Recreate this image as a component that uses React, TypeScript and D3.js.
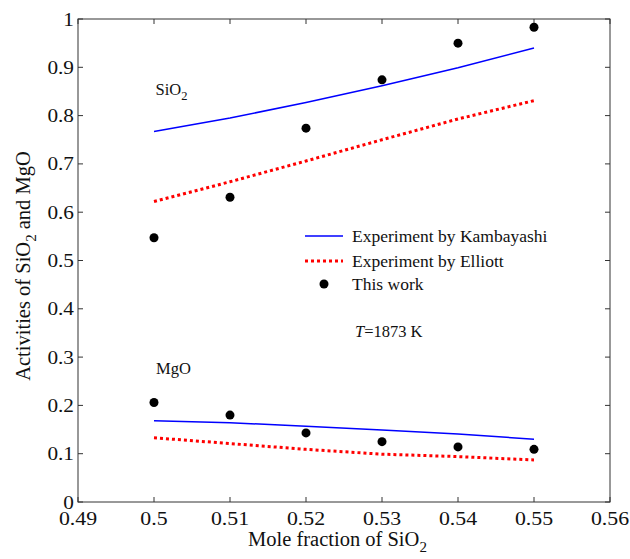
import React from "react";
import * as d3 from "d3";

// Mole fraction of SiO2
const moleFractions = [0.5, 0.51, 0.52, 0.53, 0.54, 0.55];

// SiO2 activities
const sio2Kambayashi = [0.767, 0.795, 0.827, 0.862, 0.899, 0.94];
const sio2Elliott = [0.622, 0.663, 0.706, 0.75, 0.793, 0.831];
const sio2ThisWork = [0.547, 0.631, 0.774, 0.874, 0.95, 0.983];

// MgO activities
const mgoKambayashi = [0.168, 0.164, 0.157, 0.149, 0.141, 0.13];
const mgoElliott = [0.133, 0.121, 0.109, 0.099, 0.094, 0.087];
const mgoThisWork = [0.206, 0.18, 0.143, 0.125, 0.114, 0.109];

const xTicks = [0.49, 0.5, 0.51, 0.52, 0.53, 0.54, 0.55, 0.56];
const yTicks = [0, 0.1, 0.2, 0.3, 0.4, 0.5, 0.6, 0.7, 0.8, 0.9, 1];

const W = 630;
const H = 559;
const L = 78, R = 610, T = 19, B = 502;
const FONT = "Liberation Serif, serif";

export default function App() {
  const x = d3.scaleLinear().domain([0.49, 0.56]).range([L, R]);
  const y = d3.scaleLinear().domain([0, 1]).range([B, T]);
  const line = d3
    .line<number>()
    .x((_, i) => x(moleFractions[i]))
    .y((d) => y(d));

  const fmt = (v: number) => (v === 0 || v === 1 ? String(v) : String(+v.toFixed(2)));
  const tick = 5;
  const axisColor = "#333";
  const ts = { fontFamily: FONT };
  const stretch = 1.12; // tick labels are set slightly wide

  return (
    <svg
      width={W}
      height={H}
      style={{ position: "absolute", left: 0, top: 0, background: "#fff", fontFamily: FONT }}
    >
      {/* frame */}
      <rect x={L} y={T} width={R - L} height={B - T} fill="none" stroke={axisColor} strokeWidth={1} />

      {/* x ticks */}
      {xTicks.map((t) => (
        <g key={"x" + t}>
          <line x1={x(t)} x2={x(t)} y1={B} y2={B - tick} stroke={axisColor} />
          <line x1={x(t)} x2={x(t)} y1={T} y2={T + tick} stroke={axisColor} />
          <text
            transform={`translate(${x(t)}, 524.5) scale(${stretch}, 1)`}
            fontSize={19.5}
            textAnchor="middle"
            fill="#111"
            style={ts}
          >
            {fmt(t)}
          </text>
        </g>
      ))}

      {/* y ticks */}
      {yTicks.map((t) => (
        <g key={"y" + t}>
          <line x1={L} x2={L + tick} y1={y(t)} y2={y(t)} stroke={axisColor} />
          <line x1={R} x2={R - tick} y1={y(t)} y2={y(t)} stroke={axisColor} />
          <text
            transform={`translate(74, ${y(t) + 6.5}) scale(${stretch}, 1)`}
            fontSize={19}
            textAnchor="end"
            fill="#111"
            style={ts}
          >
            {fmt(t)}
          </text>
        </g>
      ))}

      {/* axis titles */}
      <text x={248} y={546} fontSize={20.5} fill="#111" style={ts}>
        Mole fraction of SiO
        <tspan fontSize={15} dy={6}>2</tspan>
      </text>
      <text
        transform={`translate(30, 266) rotate(-90)`}
        fontSize={20.5}
        textAnchor="middle"
        fill="#111"
        style={ts}
      >
        Activities of SiO
        <tspan fontSize={15} dy={6}>2</tspan>
        <tspan dy={-6}> and MgO</tspan>
      </text>

      {/* Kambayashi curves */}
      <path d={line(sio2Kambayashi) || ""} fill="none" stroke="#0000ff" strokeWidth={1.5} />
      <path d={line(mgoKambayashi) || ""} fill="none" stroke="#0000ff" strokeWidth={1.5} />

      {/* Elliott curves */}
      <path d={line(sio2Elliott) || ""} fill="none" stroke="#ff0000" strokeWidth={3} strokeDasharray="3,3" />
      <path d={line(mgoElliott) || ""} fill="none" stroke="#ff0000" strokeWidth={3} strokeDasharray="3,3" />

      {/* this work */}
      {sio2ThisWork.map((v, i) => (
        <circle key={"s" + i} cx={x(moleFractions[i])} cy={y(v)} r={4.5} fill="#000" />
      ))}
      {mgoThisWork.map((v, i) => (
        <circle key={"m" + i} cx={x(moleFractions[i])} cy={y(v)} r={4.5} fill="#000" />
      ))}

      {/* series labels */}
      <text x={155.5} y={95} fontSize={16.5} fill="#111" style={ts}>
        SiO
        <tspan fontSize={12.5} dy={5}>2</tspan>
      </text>
      <text x={156} y={374} fontSize={16.5} fill="#111" style={ts}>
        MgO
      </text>

      {/* legend */}
      <line x1={305} x2={343} y1={236} y2={236} stroke="#0000ff" strokeWidth={1.5} />
      <text x={352} y={241.5} fontSize={17.5} fill="#111" style={ts}>Experiment by Kambayashi</text>
      <line x1={305} x2={343} y1={261} y2={261} stroke="#ff0000" strokeWidth={3} strokeDasharray="3,3" />
      <text x={352} y={267} fontSize={17.5} fill="#111" style={ts}>Experiment by Elliott</text>
      <circle cx={324} cy={284} r={4.5} fill="#000" />
      <text x={352} y={290} fontSize={17.5} fill="#111" style={ts}>This work</text>

      <text x={355} y={336.5} fontSize={16.5} fill="#111" style={ts}>
        <tspan fontStyle="italic">T</tspan>=1873 K
      </text>
    </svg>
  );
}
